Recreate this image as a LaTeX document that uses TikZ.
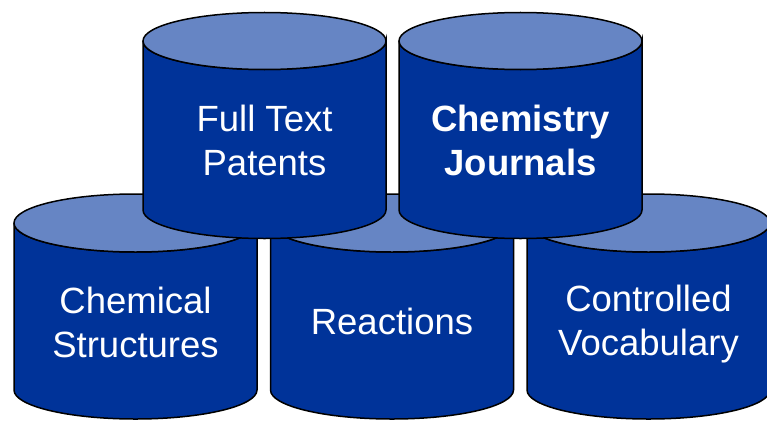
\documentclass[tikz,border=0pt]{standalone}
\usepackage{fontspec}
\setmainfont{Liberation Sans}
\usepackage{tikz}
\definecolor{mybody}{RGB}{0,51,153}
\definecolor{mytop}{RGB}{102,133,196}
\tikzset{
  cylbody/.style={fill=mybody, draw=black, line width=1.5pt},
  cyltop/.style={fill=mytop, draw=black, line width=1.5pt},
  cyltext/.style={text=white, align=center, font=\fontsize{36.5}{44}\selectfont}
}

\begin{document}
\begin{tikzpicture}[x=1pt,y=-1pt]
    \useasboundingbox (0,0) rectangle (767,420);
        % bottom row
    \foreach \cx in {135.5,392,648.5} {
        \draw[cylbody] (\cx-121.5,223) -- (\cx-121.5,390) arc[start angle=180, end angle=0, x radius=121.5, y radius=29] -- (\cx+121.5,223) arc[start angle=0, end angle=180, x radius=121.5, y radius=29];
        \draw[cyltop] (\cx,223) ellipse[x radius=121.5, y radius=29];
    }
    \node[cyltext] (structures) at (135.5,322) {Chemical\\Structures};
    \node[cyltext] (reactions) at (392,321.5) {Reactions};
    \node[cyltext] (vocabulary) at (648.5,324.5) {Controlled\\Vocabulary};
    
    % top row
    \foreach \cx in {264.5,520.5} {
        \draw[cylbody] (\cx-121.5,41) -- (\cx-121.5,210) arc[start angle=180, end angle=0, x radius=121.5, y radius=28.5] -- (\cx+121.5,41) arc[start angle=0, end angle=180, x radius=121.5, y radius=28.5];
        \draw[cyltop] (\cx,41) ellipse[x radius=121.5, y radius=28.5];
    }
    \node[cyltext] (patents) at (264.5,140) {Full Text\\Patents};
    \node[cyltext, font=\fontsize{36.5}{44}\selectfont\bfseries] (journals) at (520.5,140) {Chemistry\\Journals};
\end{tikzpicture}
\end{document}
